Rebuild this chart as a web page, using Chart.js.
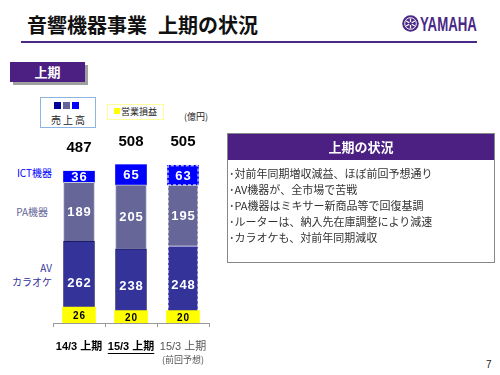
<!DOCTYPE html>
<html><head><meta charset="utf-8">
<script src="https://cdn.jsdelivr.net/npm/chart.js@4/dist/chart.umd.min.js"></script>
<style>
body{margin:0;width:500px;height:375px;background:#fff;position:relative;overflow:hidden;font-family:"Noto Sans CJK JP","Liberation Sans",sans-serif;}
.abs{position:absolute;white-space:nowrap;}
</style></head><body>
<div class="abs" style="left:27px;top:12px;font-size:20px;font-weight:bold;line-height:26px;color:#111;">音響機器事業<span style="margin-left:11px">上期の状況</span></div>
<div class="abs" style="left:21px;top:41px;width:456px;height:2px;background:#4b2886;"></div>
<svg class="abs" style="left:402px;top:15px" width="17" height="17" viewBox="0 0 17 17">
<circle cx="8.5" cy="8.5" r="8.3" fill="#4b2886"/>
<circle cx="8.5" cy="8.5" r="5.8" fill="none" stroke="#fff" stroke-width="1"/>
<g stroke="#fff" stroke-width="1.3"><line x1="8.5" y1="3.5" x2="8.5" y2="13.5"/><line x1="4.2" y1="6" x2="12.8" y2="11"/><line x1="4.2" y1="11" x2="12.8" y2="6"/></g>
<circle cx="8.5" cy="8.5" r="1.6" fill="#4b2886"/>
</svg>
<div class="abs" style="left:420px;top:12px;font-family:'Liberation Sans',sans-serif;font-size:21px;font-weight:bold;line-height:24px;color:#4b2886;transform:scaleX(0.63);transform-origin:left top;">YAMAHA</div>

<div class="abs" style="left:13px;top:65px;width:75px;height:20px;background:#a0a0a0;"></div>
<div class="abs" style="left:10px;top:62px;width:75px;height:20px;background:#4b2082;color:#fff;font-size:13px;font-weight:bold;line-height:20px;text-align:center;">上期</div>

<div class="abs" style="left:40px;top:97px;width:54px;height:29px;border:1px solid #8db4e2;"></div>
<div class="abs" style="left:54px;top:102px;width:7px;height:7px;background:#000099;"></div>
<div class="abs" style="left:63px;top:102px;width:7px;height:7px;background:#666699;"></div>
<div class="abs" style="left:72px;top:102px;width:7px;height:7px;background:#0000ff;"></div>
<div class="abs" style="left:51px;top:113px;font-size:10px;line-height:14px;letter-spacing:2px;color:#222;">売上高</div>

<div class="abs" style="left:107px;top:104px;width:55px;height:14px;border:1px solid #ffff99;"></div>
<div class="abs" style="left:114px;top:108px;width:6px;height:6px;background:#ffff00;"></div>
<div class="abs" style="left:121px;top:104px;font-size:9px;line-height:15px;color:#222;">営業損益</div>
<div class="abs" style="left:184px;top:110px;font-size:9px;line-height:14px;color:#222;">(億円)</div>

<div class="abs" style="right:448px;top:166px;font-size:10px;line-height:14px;color:#0000ff;text-align:right;">ICT機器</div>
<div class="abs" style="right:452px;top:205px;font-size:10px;line-height:14px;color:#666699;text-align:right;">PA機器</div>
<div class="abs" style="right:448px;top:261px;font-size:10px;line-height:14px;color:#333399;text-align:right;">AV<br>カラオケ</div>

<div style="position:absolute;left:0;top:100px;width:230px;height:270px;"><canvas id="c"></canvas></div>

<div class="abs" style="left:227px;top:133px;width:266px;height:128px;border:1px solid #888;">
  <div style="height:26px;background:#4b2082;color:#fff;font-size:13px;font-weight:bold;line-height:26px;text-align:center;">上期の状況</div>
  <div style="padding:5px 0 0 1px;font-size:11px;line-height:16px;color:#333;">
    <div>･対前年同期増収減益、ほぼ前回予想通り</div>
    <div>･AV機器が、全市場で苦戦</div>
    <div>･PA機器はミキサー新商品等で回復基調</div>
    <div>･ルーターは、納入先在庫調整により減速</div>
    <div>･カラオケも、対前年同期減収</div>
  </div>
</div>
<div class="abs" style="left:486px;top:358px;font-size:10px;line-height:14px;color:#222;font-family:'Liberation Sans',sans-serif;">7</div>

<script>
const categories = ['14/3 上期', '15/3 上期', '15/3 上期'];
const categorySub = ['', '', '(前回予想)'];
const avKaraoke = [262, 238, 248];
const paEquip = [189, 205, 195];
const ictEquip = [36, 65, 63];
const operatingIncome = [26, 20, 20];
const salesTotals = [487, 508, 505];

const colAV = '#333399', colPA = '#666699', colICT = '#0000ff', colOI = '#ffff00';
const forecastIndex = 2;

const overlay = {
  id: 'overlay',
  afterDatasetDraw(chart, args) {
    if (args.index !== 0) return;
    const ctx = chart.ctx;
    const top = chart.getDatasetMeta(2).data[forecastIndex];
    const mid1 = chart.getDatasetMeta(1).data[forecastIndex];
    const bot = chart.getDatasetMeta(0).data[forecastIndex];
    const w = top.width;
    const l = top.x - w / 2 + 0.5, r = top.x + w / 2 - 0.5;
    ctx.save();
    ctx.strokeStyle = '#ffffff';
    ctx.lineWidth = 1;
    ctx.setLineDash([3, 2]);
    ctx.beginPath();
    ctx.moveTo(l, bot.base); ctx.lineTo(l, top.y + 0.5); ctx.lineTo(r, top.y + 0.5); ctx.lineTo(r, bot.base);
    ctx.moveTo(l, top.base); ctx.lineTo(r, top.base);
    ctx.stroke();
    ctx.restore();
  },
  afterDraw(chart) {
    const ctx = chart.ctx;
    const xs = chart.scales.x;
    ctx.save();
    ctx.textAlign = 'center';
    ctx.textBaseline = 'middle';
    // segment values
    [[0, avKaraoke], [1, paEquip], [2, ictEquip]].forEach(([di, vals]) => {
      chart.getDatasetMeta(di).data.forEach((bar, i) => {
        ctx.fillStyle = '#ffffff';
        ctx.font = 'bold 13px "Liberation Sans", sans-serif';
        ctx.letterSpacing = '1px';
        ctx.fillText(String(vals[i]), bar.x + 0.5, (bar.y + bar.base) / 2 + 1);
      });
    });
    // operating income values
    chart.getDatasetMeta(3).data.forEach((bar, i) => {
      ctx.fillStyle = '#000';
      ctx.font = 'bold 10px "Liberation Sans", sans-serif';
      ctx.letterSpacing = '1px';
      ctx.fillText(String(operatingIncome[i]), bar.x + 0.5, (bar.y + bar.base) / 2 + 1);
    });
    // totals
    chart.getDatasetMeta(2).data.forEach((bar, i) => {
      ctx.fillStyle = '#000';
      ctx.font = 'bold 15px "Liberation Sans", sans-serif';
      ctx.letterSpacing = '0px';
      ctx.fillText(String(salesTotals[i]), bar.x, bar.y - 23);
    });
    // category labels
    categories.forEach((lab, i) => {
      const x = xs.getPixelForValue(i);
      const y = chart.chartArea.bottom + 24;
      const forecast = i === forecastIndex;
      ctx.fillStyle = forecast ? '#555' : '#000';
      ctx.font = (forecast ? '' : 'bold ') + '11px "Liberation Sans", "Noto Sans CJK JP", sans-serif';
      ctx.letterSpacing = '0px';
      ctx.fillText(lab, x, y);
      if (i === 1) {
        const w = ctx.measureText(lab).width;
        ctx.fillRect(x - w / 2, y + 6, w, 1);
      }
      if (categorySub[i]) {
        ctx.font = '9px "Noto Sans CJK JP", sans-serif';
        ctx.fillText(categorySub[i], x, y + 13);
      }
    });
    ctx.restore();
  }
};

new Chart(document.getElementById('c'), {
  type: 'bar',
  data: {
    labels: categories,
    datasets: [
      { label: 'AV カラオケ', data: avKaraoke, backgroundColor: colAV, barThickness: 31,
        borderWidth: {left: 1, right: 1, top: 1, bottom: 0}, borderColor: ['#1a1a66', '#1a1a66', 'rgba(0,0,0,0)'] },
      { label: 'PA機器', data: paEquip, backgroundColor: colPA, barThickness: 31,
        borderWidth: {left: 1, right: 1, top: 1, bottom: 0}, borderColor: ['#c8c8dc', '#c8c8dc', 'rgba(0,0,0,0)'] },
      { label: 'ICT機器', data: ictEquip, backgroundColor: colICT, barThickness: 31,
        borderWidth: 0 },
      { label: '営業損益', data: operatingIncome, backgroundColor: colOI, barThickness: 33,
        grouped: false, yAxisID: 'y2', order: -1, borderWidth: 0 }
    ]
  },
  options: {
    responsive: true,
    maintainAspectRatio: false,
    animation: false,
    layout: { padding: { left: 53, right: 21, top: 36, bottom: 43 } },
    plugins: { legend: { display: false }, tooltip: { enabled: false } },
    scales: {
      x: {
        stacked: true,
        offset: true,
        grid: { display: true, drawOnChartArea: false, drawTicks: true, tickLength: 4, color: '#999', offset: true },
        border: { display: true, color: '#999', width: 1 },
        ticks: { display: false }
      },
      y: { display: false, stacked: true, min: 0, max: 600 },
      y2: { display: false, min: 0, max: 304 }
    }
  },
  plugins: [overlay]
});
</script>
</body></html>
